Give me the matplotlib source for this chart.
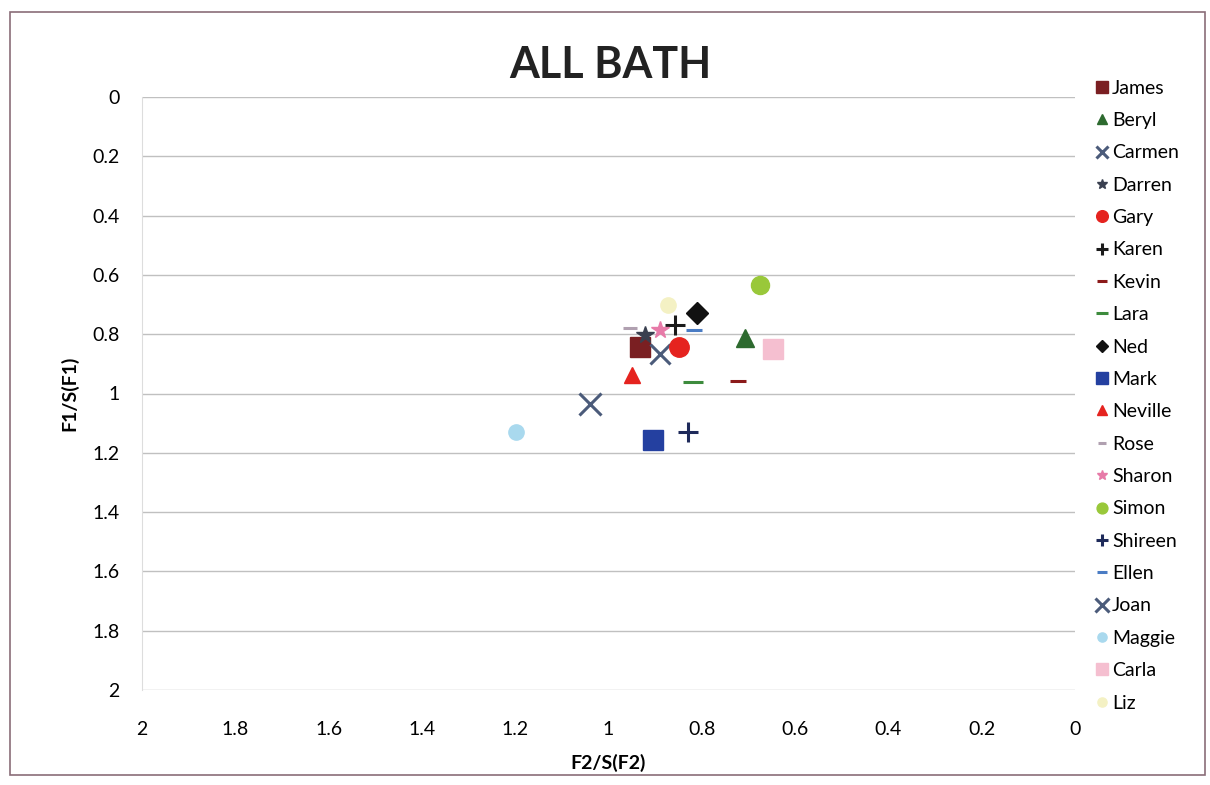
import matplotlib.pyplot as plt
from matplotlib.patches import Rectangle

plt.rcParams['font.family'] = ['Lato', 'DejaVu Sans']

# series: name, F2/S(F2), F1/S(F1)
names = ["James", "Beryl", "Carmen", "Darren", "Gary", "Karen", "Kevin", "Lara",
         "Ned", "Mark", "Neville", "Rose", "Sharon", "Simon", "Shireen", "Ellen",
         "Joan", "Maggie", "Carla", "Liz"]
f2 = [0.932, 0.707, 0.890, 0.922, 0.849, 0.857, 0.722, 0.819,
      0.810, 0.905, 0.950, 0.954, 0.890, 0.675, 0.830, 0.817,
      1.040, 1.198, 0.647, 0.872]
f1 = [0.843, 0.813, 0.867, 0.803, 0.843, 0.769, 0.958, 0.961,
      0.728, 1.157, 0.938, 0.780, 0.786, 0.634, 1.130, 0.786,
      1.035, 1.130, 0.850, 0.700]

markers = ["s", "^", "x", "*", "o", "+", "_", "_",
           "D", "s", "^", "_", "*", "o", "+", "_",
           "x", "o", "s", "o"]
colors = ["#7a1f22", "#2d6a2f", "#4b5b7a", "#3a4050", "#e5231f", "#1a1a1a", "#8b1a1a", "#3d8b3d",
          "#111111", "#2440a0", "#e5231f", "#b0a0b0", "#e77aa8", "#99c83a", "#1e2a5a", "#4a7cc4",
          "#4b5b7a", "#a9d9ee", "#f5bfd0", "#f4f1c4"]
sizes = [14, 13, 14, 13, 14, 14, 12, 14,
         11, 15, 12, 10, 13, 13, 14, 11,
         16, 11, 15, 11]
yticks = [0, 0.2, 0.4, 0.6, 0.8, 1, 1.2, 1.4, 1.6, 1.8, 2]
xticks = [2, 1.8, 1.6, 1.4, 1.2, 1, 0.8, 0.6, 0.4, 0.2, 0]

fig = plt.figure(figsize=(12.1, 7.85), dpi=100)
fig.patches.append(Rectangle((10 / 1210, 10 / 785), 1195 / 1210, 763 / 785,
                             transform=fig.transFigure, fill=False,
                             edgecolor="#8a6d78", linewidth=1.2))

ax = fig.add_axes([142 / 1210, 1 - 690 / 785, 933 / 1210, 593 / 785])
for i in range(len(names)):
    ax.plot(f2[i], f1[i], linestyle="none", marker=markers[i], color=colors[i],
            markersize=sizes[i], markeredgewidth=2.2 if markers[i] in "x+_" else 1,
            label=names[i])

ax.set_xlim(2, 0)
ax.set_ylim(2, 0)
ax.set_xticks(xticks)
ax.set_xticklabels([f"{t:g}" for t in xticks])
ax.set_yticks(yticks)
ax.set_yticklabels([f"{t:g}" for t in yticks])
ax.tick_params(length=0, labelsize=14, color="#222222")
ax.tick_params(axis="x", pad=22)
ax.tick_params(axis="y", pad=16)
ax.grid(axis="y", color="#c0c0c0", linewidth=1)
ax.set_axisbelow(True)
for s in ["top", "right", "bottom"]:
    ax.spines[s].set_visible(False)
ax.spines["left"].set_color("#dddddd")

ax.set_xlabel("F2/S(F2)", fontsize=14, fontweight="bold", labelpad=12)
ax.set_ylabel("F1/S(F1)", fontsize=14, fontweight="bold", labelpad=10)
fig.text(610 / 1210, 1 - 65 / 785, "ALL BATH", fontsize=31, fontweight="bold",
         ha="center", va="center", color="#222222")

leg = ax.legend(loc="upper left", bbox_to_anchor=(1.0, 1.062), frameon=False,
                fontsize=14, handletextpad=0.1, labelspacing=0.79,
                markerscale=0.6, handlelength=0.8, borderaxespad=0.6)

fig.savefig("out.png", dpi=100, facecolor="white")
